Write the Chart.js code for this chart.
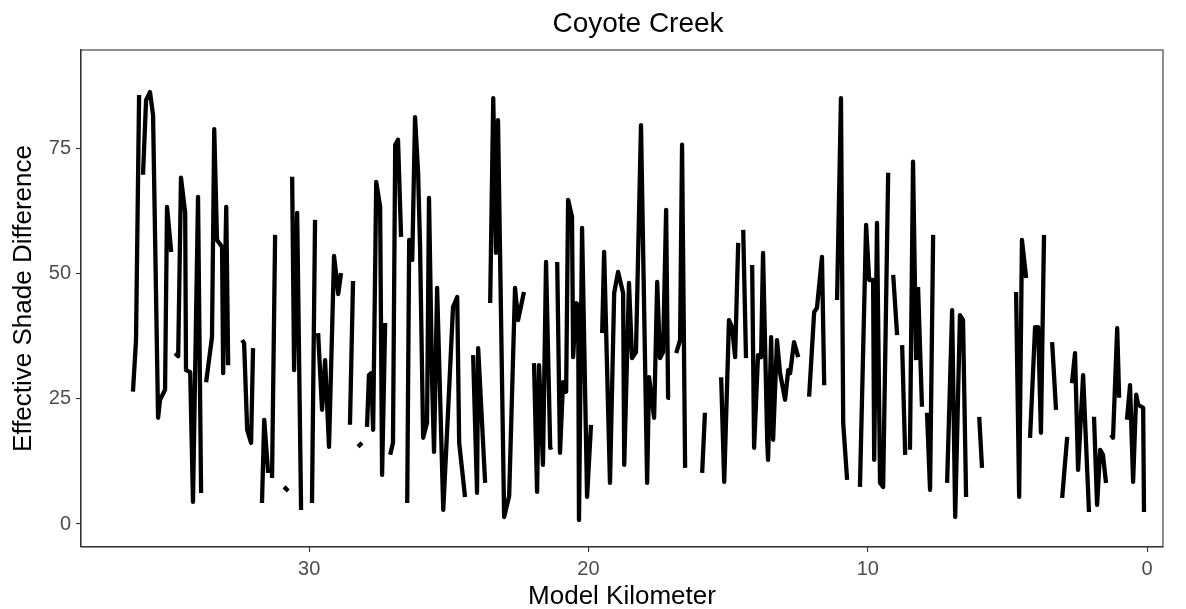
<!DOCTYPE html>
<html><head><meta charset="utf-8">
<script src="https://cdn.jsdelivr.net/npm/chart.js@4"></script>
<style>html,body{margin:0;padding:0;background:#fff}</style>
</head><body>
<canvas id="c" width="1186" height="609"></canvas>
<script>
const chartTitle = 'Coyote Creek';
const xTitle = 'Model Kilometer';
const yTitle = 'Effective Shade Difference';
const xTicks = [0, 10, 20, 30];
const yTicks = [0, 25, 50, 75];

// null marks a break in the line
const km = [
 36.31,36.20,36.09,null,
 35.95,35.84,35.70,35.59,35.41,35.34,35.16,35.09,34.94,null,
 34.80,34.69,34.59,34.44,34.41,34.26,34.16,33.98,33.87,null,
 33.69,33.48,33.40,33.30,33.12,33.08,32.97,32.90,null,
 32.40,32.33,32.22,32.08,32.01,null,
 31.69,31.61,31.47,null,
 31.33,31.22,null,
 30.90,30.75,null,
 30.61,30.54,30.43,30.29,null,
 29.90,29.79,null,
 29.68,29.54,29.43,29.29,29.11,28.96,28.86,null,
 28.54,28.43,null,
 28.25,28.11,null,
 27.93,27.86,27.78,27.71,27.60,27.46,27.39,27.28,null,
 27.10,27.00,26.92,26.82,26.71,null,
 26.49,26.42,26.31,26.21,26.10,26.03,25.92,25.78,25.71,25.60,25.53,25.42,25.20,25.03,24.85,24.70,24.63,24.42,null,
 24.13,23.99,23.95,23.70,null,
 23.52,23.41,23.31,23.24,23.02,22.84,22.63,22.52,22.31,null,
 21.95,21.84,21.77,21.63,21.52,21.37,21.30,null,
 21.12,21.02,20.91,20.80,20.73,20.59,20.55,20.44,20.37,20.34,20.23,20.05,19.91,null,
 19.51,19.44,19.23,19.08,18.94,18.76,18.72,18.55,18.44,18.30,18.12,17.90,17.83,17.65,17.54,17.44,17.33,17.22,17.15,17.08,null,
 16.86,16.72,16.65,16.54,null,
 15.93,15.83,null,
 15.25,15.14,14.97,14.86,14.75,14.64,null,
 14.46,14.36,null,
 14.14,14.07,13.93,13.82,13.75,13.60,13.57,13.46,13.39,13.25,13.14,12.96,12.85,12.78,12.64,12.49,null,
 12.10,11.92,11.82,11.64,11.56,null,
 11.10,10.96,10.88,10.74,null,
 10.28,10.06,9.95,9.81,9.77,9.67,9.56,9.45,9.27,null,
 9.09,8.95,null,
 8.77,8.66,null,
 8.49,8.38,8.27,null,
 8.20,8.06,null,
 7.88,7.77,7.66,null,
 7.16,6.98,6.87,6.70,6.59,6.48,null,
 6.01,5.91,null,
 4.69,4.58,4.48,4.33,null,
 4.19,4.01,3.90,3.80,3.69,null,
 3.40,3.26,null,
 3.04,2.86,null,
 2.69,2.58,2.47,2.29,2.08,null,
 1.90,1.79,1.68,1.58,1.47,null,
 1.29,1.22,1.07,1.00,null,
 0.72,0.61,0.50,0.39,0.32,0.14,0.11
];
const shade = [
 26.4,36.7,85.6,null,
 69.7,84.6,86.2,81.6,21.2,24.8,26.8,63.3,54.3,null,
 34.1,33.5,69.1,62.1,30.7,30.3,4.4,65.3,6.2,null,
 28.3,37.3,78.8,56.7,55.3,30.1,63.3,31.7,null,
 36.7,36.1,18.8,16.2,35.1,null,
 4.2,20.8,10.2,null,
 9.2,57.7,null,
 7.4,6.6,null,
 69.3,30.7,62.1,2.8,null,
 4.2,60.7,null,
 38.1,22.8,32.7,15.4,53.5,45.9,50.1,null,
 19.8,48.5,null,
 15.4,16.2,null,
 19.4,29.7,30.1,18.8,68.3,63.3,9.8,40.1,null,
 13.8,16.2,75.7,76.7,57.3,null,
 4.2,56.7,52.7,81.2,70.1,55.3,17.2,20.2,65.1,28.7,14.4,47.1,2.8,22.2,43.3,45.3,16.2,5.4,null,
 33.7,6.2,35.1,8.2,null,
 44.1,85.0,54.1,80.6,1.4,5.6,47.1,40.7,46.3,null,
 32.1,6.4,31.7,11.8,52.3,15.2,15.4,null,
 52.3,14.2,28.3,26.4,64.7,61.3,33.3,44.1,43.7,0.8,59.1,5.4,19.8,null,
 38.1,54.3,8.2,46.1,50.3,46.1,11.8,48.1,33.1,34.3,79.6,8.2,29.3,21.2,48.3,33.1,34.3,62.7,25.2,25.2,null,
 34.1,36.7,75.7,11.2,null,
 10.2,22.2,null,
 29.3,8.4,40.7,39.3,33.3,56.1,null,
 58.7,33.1,null,
 51.7,15.2,33.7,33.3,54.1,16.4,12.8,37.3,16.8,36.7,30.1,24.8,30.7,30.1,36.3,33.3,null,
 25.4,42.3,43.1,53.3,27.7,null,
 44.7,85.0,20.2,8.8,null,
 7.4,59.7,48.7,48.7,12.8,60.1,8.2,7.4,70.1,null,
 49.7,37.7,null,
 35.7,13.8,null,
 14.8,72.3,32.7,null,
 47.3,23.4,null,
 22.2,6.8,57.7,null,
 8.2,42.7,1.4,41.7,40.7,5.4,null,
 21.4,11.2,null,
 46.3,5.4,56.7,49.1,null,
 17.2,39.3,39.3,18.2,57.7,null,
 36.3,22.8,null,
 5.2,17.4,null,
 28.1,34.1,10.8,29.7,2.4,null,
 21.4,3.8,14.8,13.8,8.2,null,
 17.8,17.2,39.1,25.2,null,
 20.8,27.7,8.4,25.8,23.8,23.2,2.4
];

const points = km.map((k, i) => ({ x: k === null ? km[i - 1] : k, y: shade[i] }));
const FONT = '"Liberation Sans", Arial, Helvetica, sans-serif';

const frame = {
  id: 'frame',
  afterDraw(chart) {
    const { ctx, chartArea: a } = chart;
    ctx.save();
    ctx.strokeStyle = '#333333';
    ctx.lineWidth = 1.1;
    ctx.strokeRect(a.left, a.top, a.right - a.left, a.bottom - a.top);
    ctx.fillStyle = '#000';
    ctx.font = '28px ' + FONT;
    ctx.textAlign = 'center';
    ctx.textBaseline = 'middle';
    ctx.fillText(chartTitle, 638, 24);
    ctx.restore();
  }
};

new Chart(document.getElementById('c'), {
  type: 'line',
  data: { datasets: [{
    data: points,
    borderColor: '#000000',
    borderWidth: 4.3,
    pointRadius: 0,
    borderCapStyle: 'butt',
    borderJoinStyle: 'round',
    spanGaps: false,
    tension: 0,
    fill: false
  }]},
  options: {
    responsive: false,
    animation: false,
    layout: { padding: { top: 50, right: 23, left: 0, bottom: 0 } },
    plugins: { legend: { display: false }, tooltip: { enabled: false }, title: { display: false } },
    scales: {
      x: {
        type: 'linear', reverse: true, min: -0.57, max: 38.17,
        afterBuildTicks: s => { s.ticks = xTicks.map(v => ({ value: v })); },
        afterFit: s => { s.height = 62; },
        ticks: { color: '#4d4d4d', font: { family: FONT, size: 20 }, padding: 5, maxRotation: 0, autoSkip: false },
        grid: { drawOnChartArea: false, drawTicks: true, tickLength: 5, color: '#333333', lineWidth: 1.1 },
        border: { display: true, color: '#333333', width: 1.1 },
        title: { display: true, text: xTitle, color: '#000', font: { family: FONT, size: 26 }, padding: { top: 0, bottom: -3 } }
      },
      y: {
        type: 'linear', min: -4.59, max: 94.6,
        afterBuildTicks: s => { s.ticks = yTicks.map(v => ({ value: v })); },
        afterFit: s => { s.width = 81; },
        ticks: { color: '#4d4d4d', font: { family: FONT, size: 20 }, padding: 5, autoSkip: false },
        grid: { drawOnChartArea: false, drawTicks: true, tickLength: 5, color: '#333333', lineWidth: 1.1 },
        border: { display: true, color: '#333333', width: 1.1 },
        title: { display: true, text: yTitle, color: '#000', font: { family: FONT, size: 26 }, padding: { top: 8, bottom: 0 } }
      }
    }
  },
  plugins: [frame]
});
</script>
</body></html>
